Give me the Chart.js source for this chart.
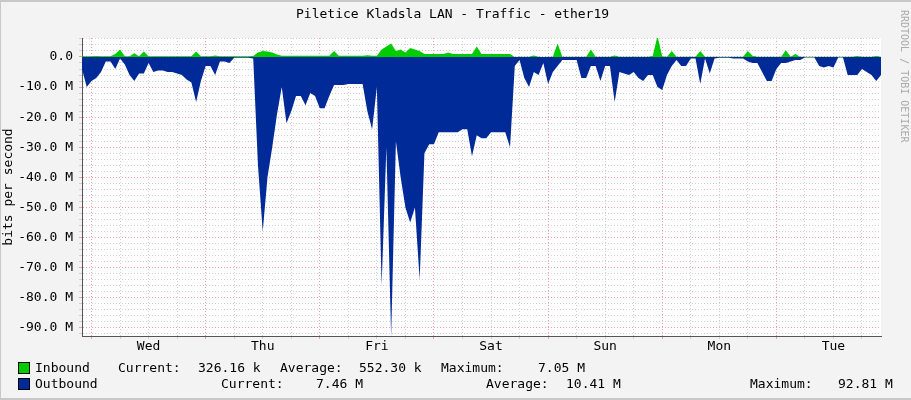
<!DOCTYPE html>
<html>
<head>
<meta charset="utf-8">
<script src="https://cdn.jsdelivr.net/npm/chart.js@4.4.1/dist/chart.umd.min.js"></script>
<style>
  body { margin: 0; background: #f3f3f3; }
  #wrap { position: relative; width: 911px; height: 400px; background: #f3f3f3; box-sizing: border-box; border-top: 2px solid #c8c8c8; border-left: 1px solid #c8c8c8; border-bottom: 2px solid #c8c8c8; font-family: "DejaVu Sans Mono", monospace; font-size: 13px; color: #000; overflow: hidden; }
  #chart { position: absolute; left: -1px; top: 2px; }
  .t { position: absolute; white-space: pre; }
  .box { position: absolute; width: 10px; height: 10px; border: 1px solid #000; }
  #side { position: absolute; left: 898px; top: 8px; writing-mode: vertical-rl; font-size: 10px; color: #aaa; }
</style>
</head>
<body>
<div id="wrap">
  <canvas id="chart" width="911" height="400"></canvas>
  <div class="t" style="left:295px;top:4px">Piletice Kladsla LAN - Traffic - ether19</div>
  <div id="side">RRDTOOL / TOBI OETIKER</div>
  <div class="box" style="left:17px;top:360px;background:#00cc00"></div>
  <div class="t" style="left:34px;top:358px">Inbound</div>
  <div class="t" style="left:117px;top:358px">Current:</div>
  <div class="t" style="left:197px;top:358px">326.16 k</div>
  <div class="t" style="left:279px;top:358px">Average:</div>
  <div class="t" style="left:358px;top:358px">552.30 k</div>
  <div class="t" style="left:440px;top:358px">Maximum:</div>
  <div class="t" style="left:537px;top:358px">7.05 M</div>
  <div class="box" style="left:17px;top:376px;background:#002a97"></div>
  <div class="t" style="left:34px;top:374px">Outbound</div>
  <div class="t" style="left:220px;top:374px">Current:</div>
  <div class="t" style="left:315px;top:374px">7.46 M</div>
  <div class="t" style="left:485px;top:374px">Average:</div>
  <div class="t" style="left:565px;top:374px">10.41 M</div>
  <div class="t" style="left:749px;top:374px">Maximum:</div>
  <div class="t" style="left:837px;top:374px">92.81 M</div>
</div>
<script>
// hourly samples over one week, in Mbit/s
const days = ['Wed', 'Thu', 'Fri', 'Sat', 'Sun', 'Mon', 'Tue'];

const outbound = [
  4, 10, 8, 7, 5, 1.5, 1.5, 4, 0.5, 2.5, 6, 8, 5.5, 5.5, 2, 5, 4.5, 4.5, 5, 5,
  5.5, 6, 7.5, 8.5, 15, 8, 3, 3, 6, 1.5, 1.5, 2, 0.3, 0.3, 0.3, 0.3, 0.5, 36, 58, 40,
  30, 19, 10, 22, 18, 13, 13, 16, 12, 13, 17, 17, 13, 9.3, 9.3, 9.3, 9, 9, 9, 9,
  18, 24, 10, 76, 30, 93, 28, 40, 50, 55, 50, 74, 32, 29, 29, 25, 25, 25, 25, 25,
  24, 24, 33, 26, 27, 27, 25, 25, 25, 25, 30, 3, 1, 7, 10, 5, 6, 2, 9, 5,
  3, 1, 1, 1, 1, 7, 7, 3, 3, 8, 3, 3, 15, 5, 5.5, 6, 5, 7, 8, 6,
  6, 10, 11, 6, 3, 1, 3, 3, 0.5, 0.5, 9, 0.5, 5.5, 0.5, 0.3, 0.3, 0.3, 0.5, 0.5, 0.5,
  1.5, 2, 2, 5, 8, 8, 4, 2, 2, 1.5, 1, 1, 0.2, 0.2, 0.2, 3, 3.5, 3, 3.5, 0.2,
  0.2, 6, 6, 6, 4, 5, 6, 8, 6
];

const inbound = [
  0.2, 0.2, 0.2, 0.3, 0.2, 0.2, 0.2, 1, 2.5, 0.2, 0.2, 1.2, 0.2, 1.8, 0.2, 0.2, 0.2, 0.2, 0.2, 0.2,
  0.2, 0.2, 0.2, 0.2, 1.8, 0.2, 0.2, 0.2, 0.5, 0.2, 0.2, 0.2, 0.2, 0.2, 0.2, 0.2, 0.3, 1.5, 2, 1.8,
  1.5, 0.8, 0.4, 0.4, 0.4, 0.4, 0.4, 0.4, 0.4, 0.4, 0.4, 0.4, 0.4, 2, 0.4, 0.4, 0.4, 0.4, 0.4, 0.4,
  0.6, 0.4, 0.4, 2.5, 3.5, 4.5, 2, 2.5, 1.5, 3, 2.5, 2, 1, 1, 1, 1, 1, 1.5, 1, 1,
  1, 1, 1, 3.5, 1, 1, 1, 1, 1, 1, 1, 0, 0.1, 0.1, 0.1, 0.5, 0.1, 0, 0.1, 0.1,
  4.5, 0.1, 0.1, 0.1, 0.1, 0.1, 0.1, 2.5, 0.1, 0.1, 0.1, 0.1, 0.5, 0.1, 0.1, 0.1, 0.1, 0.1, 0.1, 0.1,
  0.3, 7, 0.2, 0.1, 2, 0.1, 0.1, 0.1, 0.1, 0.1, 2, 0.1, 0.1, 0.1, 0.1, 0.1, 0.1, 0.1, 0.1, 0.1,
  2, 0.4, 0.1, 0.1, 0.1, 0.1, 0.1, 0.1, 2.2, 0.1, 1, 0.1, 0.1, 0.1, 0.1, 0.1, 0.1, 0.1, 0.1, 0.1,
  0.1, 0.1, 0.1, 0.3, 0.1, 0.1, 0.1, 0.3, 0.1
];

const hours = outbound.map((v, i) => i);

const plotBg = {
  id: 'plotBg',
  beforeDraw(chart) {
    const a = chart.chartArea, c = chart.ctx;
    c.save();
    c.fillStyle = '#ffffff';
    c.fillRect(a.left, a.top, a.right - a.left, a.bottom - a.top);
    c.restore();
  }
};

new Chart(document.getElementById('chart').getContext('2d'), {
  type: 'line',
  data: {
    datasets: [
      {
        label: 'Inbound',
        data: hours.map(h => ({ x: h, y: inbound[h] })),
        borderWidth: 0,
        backgroundColor: '#00cc00',
        fill: 'origin',
        pointRadius: 0,
        tension: 0
      },
      {
        label: 'Outbound',
        data: hours.map(h => ({ x: h, y: -outbound[h] })),
        borderWidth: 0,
        backgroundColor: '#002a97',
        fill: 'origin',
        pointRadius: 0,
        tension: 0
      }
    ]
  },
  plugins: [plotBg],
  options: {
    responsive: false,
    animation: false,
    layout: { padding: { left: 1, top: 34, right: 30, bottom: 0 } },
    plugins: { legend: { display: false }, tooltip: { enabled: false } },
    scales: {
      x: {
        type: 'linear',
        min: 0,
        max: 168,
        afterFit: s => { s.height = 68; },
        afterBuildTicks: s => {
          const t = [];
          for (let h = 2; h < 168; h += 6) t.push({ value: h });
          s.ticks = t;
        },
        ticks: {
          autoSkip: false,
          maxRotation: 0,
          padding: 0,
          color: '#000',
          font: { family: 'DejaVu Sans Mono', size: 13 },
          callback: v => ((v - 14) % 24 === 0 ? days[(v - 14) / 24] : '')
        },
        grid: {
          color: ctx => ((ctx.tick && (ctx.tick.value - 26) % 24 === 0) ? '#f0a0a0' : '#d0d0d0'),
          tickLength: 3,
          drawTicks: true
        },
        border: { color: '#555', dash: [1, 2] }
      },
      y: {
        min: -92.7,
        max: 6.3,
        afterFit: s => { s.width = 81; },
        afterBuildTicks: s => {
          const t = [];
          for (let v = -92; v <= 6; v += 2) t.push({ value: v });
          s.ticks = t;
        },
        title: {
          display: true,
          text: 'bits per second',
          color: '#000',
          padding: 0,
          font: { family: 'DejaVu Sans Mono', size: 13 }
        },
        ticks: {
          autoSkip: false,
          padding: 6,
          color: '#000',
          font: { family: 'DejaVu Sans Mono', size: 13 },
          callback: v => (v % 10 === 0 ? (v === 0 ? '0.0' : v.toFixed(1) + ' M') : '')
        },
        grid: {
          color: ctx => ((ctx.tick && ctx.tick.value % 10 === 0) ? '#f0a0a0' : '#d0d0d0'),
          tickLength: 3
        },
        border: { color: '#555', dash: [1, 2] }
      }
    }
  }
});
</script>
</body>
</html>
